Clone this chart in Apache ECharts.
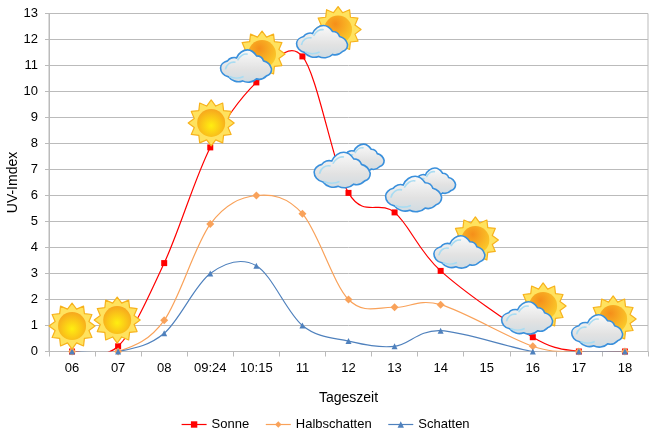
<!DOCTYPE html>
<html>
<head>
<meta charset="utf-8">
<style>
  html, body { margin: 0; padding: 0; background: #fff; }
  #chart { width: 658px; height: 438px; }
</style>
</head>
<body>
<div id="chart"></div>
<script src="https://cdn.jsdelivr.net/npm/echarts@6/dist/echarts.min.js"></script>
<script>
const categories = ['06', '07', '08', '09:24', '10:15', '11', '12', '13', '14', '15', '16', '17', '18'];
const sonne = [0, 0.2, 3.4, 7.85, 10.35, 11.35, 6.1, 5.35, 3.1, null, 0.55, 0, 0];
const halbschatten = [0, 0, 1.2, 4.9, 6, 5.3, 2, 1.7, 1.8, null, 0.2, 0, 0];
const schatten = [0, 0, 0.7, 3, 3.3, 1, 0.4, 0.2, 0.8, null, 0, 0, 0];

const colorSonne = '#ff0000';
const colorHalb = '#f9a25a';
const colorSchatten = '#4f81bd';

// weather icons: [category position, UV value, kind]
const icons = [
  [0, 0.98, 'sun'],
  [0.98, 1.21, 'sun'],
  [3.02, 8.79, 'sun'],
  [3.95, 11.21, 'partly'],
  [5.6, 12.15, 'partly'],
  [6.08, 7.21, 'clouds'],
  [7.63, 6.29, 'clouds'],
  [8.58, 4.06, 'partly'],
  [10.05, 1.52, 'partly'],
  [11.57, 1.02, 'partly']
];

const cloudPath = 'M7,11 C9,8 13,7 16,8 C18,3 23,0 27,0 C31,0 34,3 36,6 C39,6 42,8 43,11 C47,12 50,15 51,19 ' +
  'C51,23 49,25 46,26 C43,29 39,30 36,29 C32,33 26,33 22,31 C17,33 11,31 8,27 C3,26 0,22 0,18 C0,15 3,12 7,11 Z';

function sunRays(r1, r2, n) {
  const pts = [];
  for (let i = 0; i < n * 2; i++) {
    const r = i % 2 ? r2 : r1;
    const a = (Math.PI * i) / n - Math.PI / 2;
    pts.push([r * Math.cos(a), r * Math.sin(a)]);
  }
  return pts;
}

function sun(x, y, cloudy) {
  return [
    {
      type: 'polygon',
      x: x, y: y,
      shape: { points: sunRays(23, 17.5, 12) },
      style: { fill: '#ffe25e', stroke: '#f7b21c', lineWidth: 1.2, lineJoin: 'round' }
    },
    {
      type: 'circle',
      x: x, y: y,
      shape: { cx: 0, cy: 0, r: 14 },
      style: {
        fill: new echarts.graphic.RadialGradient(cloudy ? 0.4 : 0.5, cloudy ? 0.3 : 0.6, 0.7, [
          { offset: 0, color: cloudy ? '#f58f1a' : '#ffee10' },
          { offset: 1, color: cloudy ? '#fbc92a' : '#f59a20' }
        ])
      }
    }
  ];
}

function cloud(x, y, scale) {
  const w = 51 * scale;
  const h = 33 * scale;
  return [
    {
      type: 'path',
      shape: { pathData: cloudPath, x: x - w / 2, y: y - h / 2, width: w, height: h },
      style: {
        fill: new echarts.graphic.LinearGradient(0, 0, 0, 1, [
          { offset: 0, color: '#fbfbfb' },
          { offset: 0.6, color: '#e2e2e2' },
          { offset: 1, color: '#cfdbe2' }
        ]),
        stroke: '#3a90dc',
        lineWidth: 1.6
      }
    },
    {
      type: 'path',
      shape: {
        pathData: 'M4,20 C5,15 9,12 14,13 M16,11 C18,7 22,4 26,5 M8,27 C12,29 18,29 22,27',
        x: x - w / 2 + 4 * scale, y: y - h / 2 + 4.5 * scale, width: 24 * scale, height: 24 * scale
      },
      style: { fill: null, stroke: '#a9dcf2', lineWidth: 1.6 }
    }
  ];
}

function renderIcon(params, api) {
  const p = api.coord([api.value(0), api.value(1)]);
  const kind = icons[params.dataIndex][2];
  let children = [];
  if (kind === 'sun') {
    children = sun(p[0], p[1], false);
  } else if (kind === 'partly') {
    children = sun(p[0] + 8, p[1] - 6, true).concat(cloud(p[0] - 8, p[1] + 6, 1));
  } else {
    children = cloud(p[0] + 10, p[1] - 6, 0.86).concat(cloud(p[0] - 10, p[1] + 6, 1.1));
  }
  return { type: 'group', children: children };
}

// the curve goes through the values with the same tangents a spreadsheet smoothed line uses
function curveSeries(values, color) {
  const points = [];
  values.forEach(function (v, i) {
    if (v !== null) points.push([i, v]);
  });
  return {
    type: 'custom',
    data: points,
    encode: { x: 0, y: 1 },
    clip: true,
    silent: true,
    animation: false,
    renderItem: function (params, api) {
      const i = params.dataIndex;
      if (i >= points.length - 1) return null;
      const p0 = api.coord(points[Math.max(i - 1, 0)]);
      const p1 = api.coord(points[i]);
      const p2 = api.coord(points[i + 1]);
      const p3 = api.coord(points[Math.min(i + 2, points.length - 1)]);
      return {
        type: 'bezierCurve',
        shape: {
          x1: p1[0], y1: p1[1],
          x2: p2[0], y2: p2[1],
          cpx1: p1[0] + (p2[0] - p0[0]) / 6,
          cpy1: p1[1] + (p2[1] - p0[1]) / 6,
          cpx2: p2[0] - (p3[0] - p1[0]) / 6,
          cpy2: p2[1] - (p3[1] - p1[1]) / 6
        },
        style: { fill: null, stroke: color, lineWidth: 1.2 }
      };
    }
  };
}

function pointSeries(name, data, color, symbol, symbolSize) {
  return {
    name: name,
    type: 'line',
    data: data,
    connectNulls: true,
    symbol: symbol,
    symbolSize: symbolSize,
    showSymbol: true,
    lineStyle: { opacity: 0 },
    itemStyle: { color: color },
    animation: false
  };
}

function legendItem(name, color) {
  return { name: name, lineStyle: { color: color, width: 1.2, opacity: 1 } };
}

const chart = echarts.init(document.getElementById('chart'), null, { renderer: 'canvas' });
chart.setOption({
  animation: false,
  textStyle: { fontFamily: '"Liberation Sans", Arial, sans-serif', color: '#000' },
  grid: {
    left: 49,
    right: 10,
    top: 13.5,
    bottom: 86.5,
    outerBoundsMode: 'none',
    show: true,
    borderColor: '#bbbbbb',
    borderWidth: 1
  },
  legend: {
    top: 413,
    left: 176,
    itemWidth: 25,
    itemHeight: 8,
    itemGap: 16,
    data: [
      legendItem('Sonne', colorSonne),
      legendItem('Halbschatten', colorHalb),
      legendItem('Schatten', colorSchatten)
    ],
    textStyle: { fontFamily: '"Liberation Sans", Arial, sans-serif', fontSize: 13, color: '#000' }
  },
  xAxis: [
    {
      type: 'category',
      data: categories,
      boundaryGap: true,
      name: 'Tageszeit',
      nameLocation: 'middle',
      nameGap: 40,
      nameMoveOverlap: false,
      nameTextStyle: { fontSize: 14, color: '#000' },
      axisLine: { lineStyle: { color: '#bbbbbb', width: 1 } },
      axisTick: { show: true, length: 5, alignWithLabel: false, lineStyle: { color: '#bbbbbb' } },
      axisLabel: { fontSize: 13, color: '#000', margin: 10, interval: 0 },
      splitLine: { show: false }
    },
    // hidden helper in category units, the icons sit between the category centres
    { type: 'value', min: -0.5, max: 12.5, show: false, splitLine: { show: false } }
  ],
  yAxis: {
    type: 'value',
    min: 0,
    max: 13,
    interval: 1,
    name: 'UV-Imdex',
    nameLocation: 'middle',
    nameGap: 29,
    nameMoveOverlap: false,
    nameTextStyle: { fontSize: 14, color: '#000' },
    axisLine: { show: true, onZero: false, lineStyle: { color: '#bbbbbb', width: 1 } },
    axisTick: { show: true, length: 4, lineStyle: { color: '#bbbbbb' } },
    axisLabel: { fontSize: 13, color: '#000', margin: 11 },
    splitLine: { show: true, lineStyle: { color: '#bbbbbb', width: 1 } }
  },
  series: [
    curveSeries(sonne, colorSonne),
    curveSeries(halbschatten, colorHalb),
    curveSeries(schatten, colorSchatten),
    pointSeries('Sonne', sonne, colorSonne, 'rect', 6),
    pointSeries('Halbschatten', halbschatten, colorHalb, 'diamond', 8),
    pointSeries('Schatten', schatten, colorSchatten, 'triangle', 6),
    {
      type: 'custom',
      xAxisIndex: 1,
      data: icons.map(function (d) { return [d[0], d[1]]; }),
      renderItem: renderIcon,
      encode: { x: 0, y: 1 },
      clip: false,
      silent: true,
      z: 5,
      animation: false
    }
  ]
});
</script>
</body>
</html>
